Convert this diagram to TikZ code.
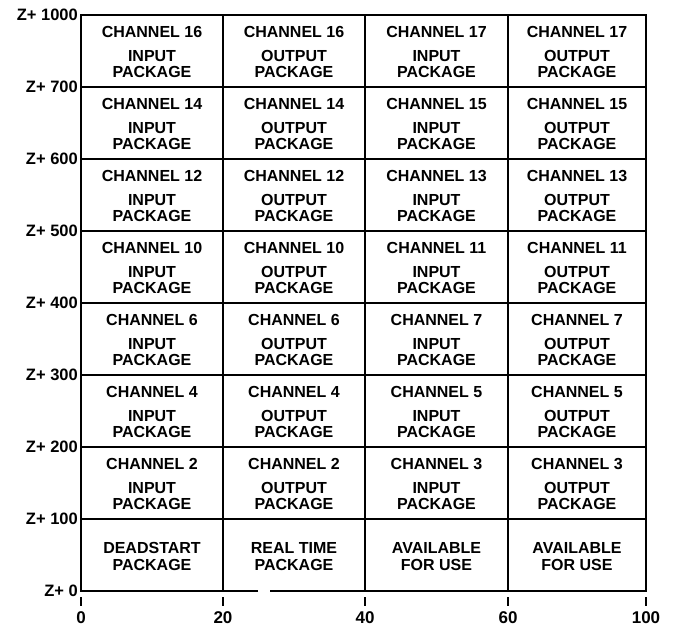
\documentclass[tikz,border=0pt]{standalone}
\usepackage{fontspec}
\setmainfont{Liberation Sans}
\begin{document}
\begin{tikzpicture}[x=1pt,y=-1pt,
  cell/.style={font=\bfseries\fontsize{16}{16}\selectfont, anchor=base, inner sep=0pt},
  zlab/.style={font=\bfseries\fontsize{16.5}{16}\selectfont, anchor=east, inner sep=0pt},
  xlab/.style={font=\bfseries\fontsize{17}{16}\selectfont, anchor=base, inner sep=0pt},
  grid/.style={line width=2pt},
  tick/.style={line width=2pt}]
\useasboundingbox (0,0) rectangle (675,630);
% corner coordinates
\coordinate (tl) at (81,15);
\coordinate (tr) at (646,15);
\coordinate (bl) at (81,591);
\coordinate (br) at (646,591);
\coordinate (g1) at (258,591);
\coordinate (g2) at (270,591);
% outer frame
\draw[grid] (g1) -- (bl) -- (tl) -- (tr) -- (br) -- (g2);
% vertical lines
\foreach \x in {223,365,508} {
  \draw[grid] (\x,15) -- (\x,591);
}
% horizontal lines
\foreach \i in {1,...,7} {
  \pgfmathsetmacro{\yy}{15+72*\i}
  \draw[grid] (81,\yy) -- (646,\yy);
}
% cell texts
\foreach \r/\a/\b in {0/16/17,1/14/15,2/12/13,3/10/11,4/6/7,5/4/5,6/2/3} {
  \pgfmathsetmacro{\top}{15+72*\r}
  \node[cell] (t-\r-1) at (152,\top+22) {CHANNEL \a};
  \node[cell] (m-\r-1) at (152,\top+46) {INPUT};
  \node[cell] (p-\r-1) at (152,\top+62) {PACKAGE};
  \node[cell] (t-\r-2) at (294,\top+22) {CHANNEL \a};
  \node[cell] (m-\r-2) at (294,\top+46) {OUTPUT};
  \node[cell] (p-\r-2) at (294,\top+62) {PACKAGE};
  \node[cell] (t-\r-3) at (436.5,\top+22) {CHANNEL \b};
  \node[cell] (m-\r-3) at (436.5,\top+46) {INPUT};
  \node[cell] (p-\r-3) at (436.5,\top+62) {PACKAGE};
  \node[cell] (t-\r-4) at (577,\top+22) {CHANNEL \b};
  \node[cell] (m-\r-4) at (577,\top+46) {OUTPUT};
  \node[cell] (p-\r-4) at (577,\top+62) {PACKAGE};
}
% bottom row
\node[cell] (d1) at (152,553) {DEADSTART};
\node[cell] (d2) at (152,570) {PACKAGE};
\node[cell] (r1) at (294,553) {REAL TIME};
\node[cell] (r2) at (294,570) {PACKAGE};
\node[cell] (a1) at (436.5,553) {AVAILABLE};
\node[cell] (a2) at (436.5,570) {FOR USE};
\node[cell] (b1) at (577,553) {AVAILABLE};
\node[cell] (b2) at (577,570) {FOR USE};
% left labels
\foreach \i/\z in {0/1000,1/700,2/600,3/500,4/400,5/300,6/200,7/100,8/0} {
  \pgfmathsetmacro{\yy}{15+72*\i}
  \node[zlab] (z\i) at (78,\yy) {Z+ \z};
}
% ticks and x labels
\foreach \x/\v in {81/0,223/20,365/40,508/60,646/100} {
  \draw[tick] (\x,597) -- (\x,606);
  \node[xlab] (x\v) at (\x,623) {\v};
}
\end{tikzpicture}
\end{document}
